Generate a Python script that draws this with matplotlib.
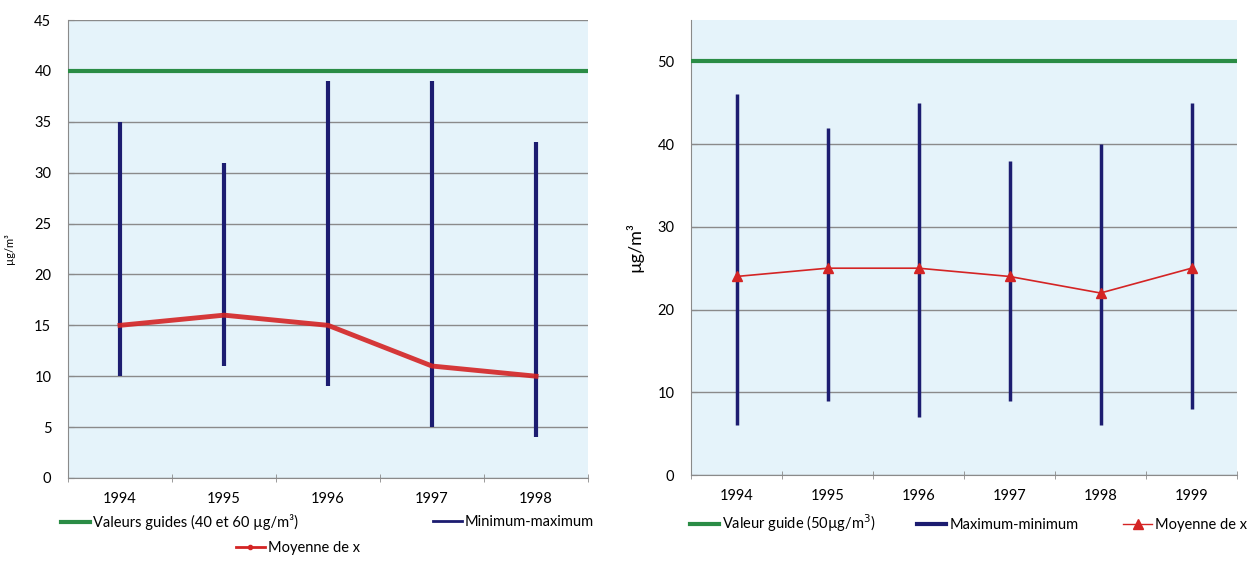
import numpy as np
import matplotlib.pyplot as plt
from matplotlib.lines import Line2D

# left chart data
annees_g = ['1994', '1995', '1996', '1997', '1998']
max_g = [35, 31, 39, 39, 33]
min_g = [10, 11, 9, 5, 4]
moy_g = [15, 16, 15, 11, 10]
guide_g = 40

# right chart data
annees_d = ['1994', '1995', '1996', '1997', '1998', '1999']
max_d = [46, 42, 45, 38, 40, 45]
min_d = [6, 9, 7, 9, 6, 8]
moy_d = [24, 25, 25, 24, 22, 25]
guide_d = 50

vert = '#2a8c45'
bleu = '#1c1c70'
rouge = '#d42424'
fond = '#e5f3fa'
gris = '#8a8a8a'

fig = plt.figure(figsize=(12.48, 5.64), dpi=100)
plt.rcParams['font.family'] = ['Lato', 'DejaVu Sans']


def preparer(ax, annees, ymax, ystep):
    n = len(annees)
    ax.set_facecolor(fond)
    ax.set_xlim(-0.5, n - 0.5)
    ax.set_ylim(0, ymax)
    ax.set_yticks(np.arange(0, ymax + 0.1, ystep))
    ax.set_xticks(range(n))
    ax.set_xticklabels(annees)
    ax.set_xticks(np.arange(-0.5, n, 1), minor=True)
    ax.tick_params(axis='x', which='major', length=0, pad=10, labelsize=10.5)
    ax.tick_params(axis='x', which='minor', length=6, direction='inout', color=gris)
    ax.tick_params(axis='y', length=4, direction='in', color=gris, pad=12, labelsize=10.5)
    ax.grid(axis='y', color=gris, linewidth=1)
    ax.set_axisbelow(True)
    for s in ['top', 'right']:
        ax.spines[s].set_visible(False)
    ax.spines['left'].set_color(gris)
    ax.spines['bottom'].set_color(gris)


# ---- left chart
ax1 = fig.add_axes([0.0545, 0.1525, 0.4167, 0.812])
preparer(ax1, annees_g, 45, 5)
x1 = np.arange(len(annees_g))
ax1.axhline(guide_g, color=vert, linewidth=3, zorder=3)
ax1.vlines(x1, min_g, max_g, color=bleu, linewidth=3, zorder=3)
ax1.plot(x1, moy_g, color=rouge, linewidth=3.5, alpha=0.9, zorder=4)
ax1.set_ylabel('µg/m³', fontsize=8, labelpad=14)

h_guide1 = Line2D([], [], color=vert, linewidth=3)
h_mm1 = Line2D([], [], color=bleu, linewidth=2)
h_moy1 = Line2D([], [], color=rouge, linewidth=2, marker='o', markersize=3)
leg_kw = dict(frameon=False, fontsize=10.5, handlelength=2, handletextpad=0.2,
              borderaxespad=0, borderpad=0)
l1 = fig.legend([h_guide1], ['Valeurs guides (40 et 60 µg/m³)'],
                loc='center left', bbox_to_anchor=(0.049, 1 - 522 / 564), **leg_kw)
l2 = fig.legend([h_mm1], ['Minimum-maximum'],
                loc='center right', bbox_to_anchor=(0.476, 1 - 522 / 564), **leg_kw)
l3 = fig.legend([h_moy1], ['Moyenne de x'],
                loc='center left', bbox_to_anchor=(0.189, 1 - 548 / 564), **leg_kw)

# ---- right chart
ax2 = fig.add_axes([0.5537, 0.1578, 0.4375, 0.8067])
preparer(ax2, annees_d, 55, 10)
ax2.set_yticks(np.arange(0, 51, 10))
x2 = np.arange(len(annees_d))
ax2.axhline(guide_d, color=vert, linewidth=3, zorder=3)
ax2.vlines(x2, min_d, max_d, color=bleu, linewidth=2.5, zorder=3)
ax2.plot(x2, moy_d, color=rouge, linewidth=1.2, marker='^', markersize=7, zorder=4)
ax2.set_ylabel('µg/m³', fontsize=13, labelpad=10)

h_guide2 = Line2D([], [], color=vert, linewidth=3)
h_mm2 = Line2D([], [], color=bleu, linewidth=3)
h_moy2 = Line2D([], [], color=rouge, linewidth=1, marker='^', markersize=7)
l4 = fig.legend([h_guide2], ['Valeur guide (50µg/m$^3$)'],
                loc='center left', bbox_to_anchor=(0.553, 1 - 523 / 564), **leg_kw)
l5 = fig.legend([h_mm2], ['Maximum-minimum'],
                loc='center left', bbox_to_anchor=(0.735, 1 - 525 / 564), **leg_kw)
l6 = fig.legend([h_moy2], ['Moyenne de x'],
                loc='center left', bbox_to_anchor=(0.900, 1 - 525 / 564), **leg_kw)

fig.savefig('out.png', dpi=100)
